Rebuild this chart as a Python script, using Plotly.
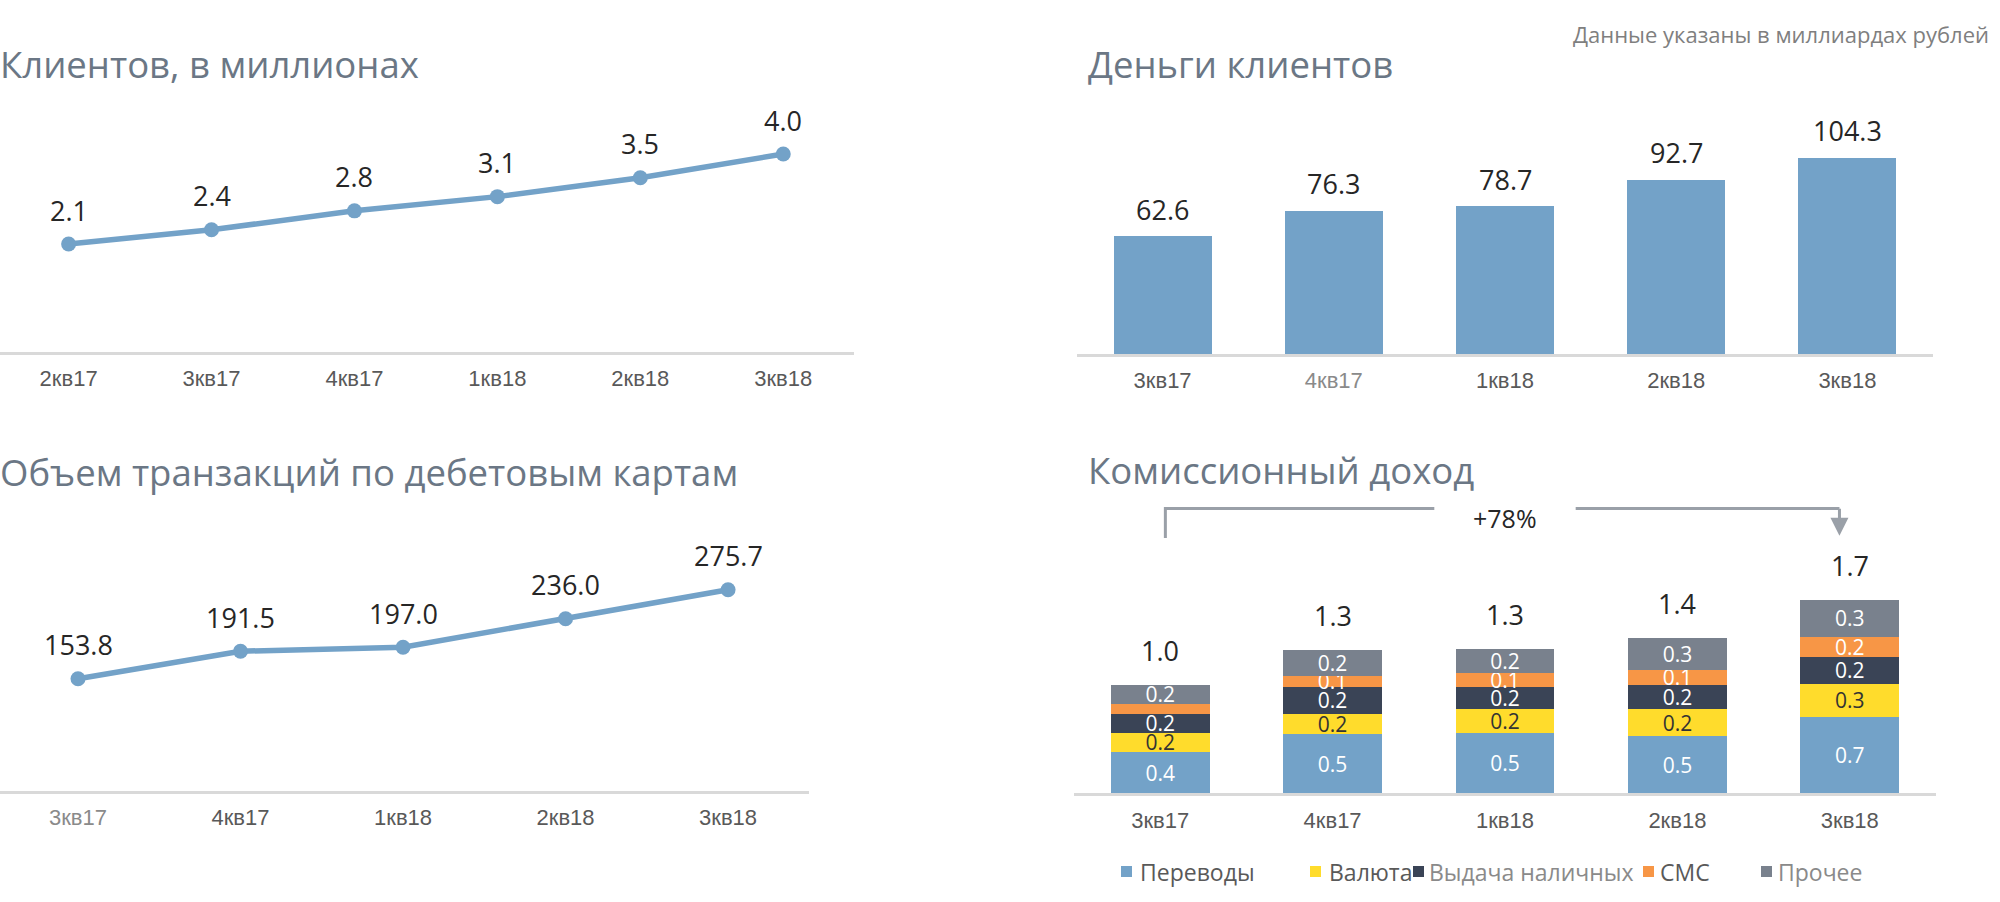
import plotly.graph_objects as go

# ---------------- data ----------------
clients_quarters = ["2кв17", "3кв17", "4кв17", "1кв18", "2кв18", "3кв18"]
clients_mln = [2.1, 2.4, 2.8, 3.1, 3.5, 4.0]

money_quarters = ["3кв17", "4кв17", "1кв18", "2кв18", "3кв18"]
money_bln = [62.6, 76.3, 78.7, 92.7, 104.3]

debit_quarters = ["3кв17", "4кв17", "1кв18", "2кв18", "3кв18"]
debit_volume = [153.8, 191.5, 197.0, 236.0, 275.7]

fee_quarters = ["3кв17", "4кв17", "1кв18", "2кв18", "3кв18"]
fee_transfers = [0.37, 0.53, 0.54, 0.51, 0.68]
fee_currency = [0.17, 0.18, 0.21, 0.24, 0.30]
fee_cash = [0.17, 0.24, 0.20, 0.22, 0.24]
fee_sms = [0.09, 0.10, 0.12, 0.13, 0.18]
fee_other = [0.17, 0.23, 0.22, 0.29, 0.33]
fee_totals = [1.0, 1.3, 1.3, 1.4, 1.7]
fee_series_names = ["Переводы", "Валюта", "Выдача наличных", "СМС", "Прочее"]
fee_growth_text = "+78%"

titles = ["Клиентов, в миллионах", "Деньги клиентов",
          "Объем транзакций по дебетовым картам", "Комиссионный доход"]
subtitle = "Данные указаны в миллиардах рублей"

# ---------------- styles ----------------
W, H = 2000, 902
BLUE = "#73a2c8"
YELLOW = "#ffdc2c"
NAVY = "#3a4456"
ORANGE = "#f79646"
GREY = "#79818d"
TITLE_C = "#6b7785"
TICK_DARK = "#595959"
TICK_LIGHT = "#8a8a8a"
LABEL_C = "#262626"
BASE_C = "#d9d9d9"
TITLE_FONT = "Open Sans"
TICK_FONT = "Liberation Sans"


def px(p):
    return p / W


def py(p):
    return 1 - p / H


def tick_texts(cats, light=()):
    out = []
    for c_i, c in enumerate(cats):
        col = TICK_LIGHT if c_i in light else TICK_DARK
        out.append(f'<span style="color:{col}">{c}</span>')
    return out


fig = go.Figure()

# chart 1: clients line
fig.add_trace(go.Scatter(
    x=clients_quarters, y=clients_mln, mode="lines+markers",
    line=dict(color=BLUE, width=5.5), marker=dict(color=BLUE, size=15),
    xaxis="x", yaxis="y", showlegend=False, hoverinfo="skip"))

# chart 2: money bars
fig.add_trace(go.Bar(
    x=money_quarters, y=money_bln, marker=dict(color=BLUE, line=dict(width=0)),
    xaxis="x2", yaxis="y2", showlegend=False, hoverinfo="skip"))

# chart 3: debit volume line
fig.add_trace(go.Scatter(
    x=debit_quarters, y=debit_volume, mode="lines+markers",
    line=dict(color=BLUE, width=5.5), marker=dict(color=BLUE, size=15),
    xaxis="x3", yaxis="y3", showlegend=False, hoverinfo="skip"))

# chart 4: stacked fees
fee_series = [fee_transfers, fee_currency, fee_cash, fee_sms, fee_other]
fee_colors = [BLUE, YELLOW, NAVY, ORANGE, GREY]
fee_text_colors = ["white", "#333333", "white", "white", "white"]
for vals, name, col, tcol in zip(fee_series, fee_series_names, fee_colors, fee_text_colors):
    fig.add_trace(go.Bar(
        x=fee_quarters, y=vals, name=name,
        marker=dict(color=col, line=dict(width=0)),
        text=[f"{v:.1f}" if v >= 0.1 else "" for v in vals],
        textposition="inside", insidetextanchor="middle", textangle=0,
        constraintext="none",
        textfont=dict(family=TITLE_FONT, size=21, color=tcol),
        xaxis="x4", yaxis="y4", showlegend=False, hoverinfo="skip"))

annotations = []
shapes = []

# data labels
for cats, vals, xr, yr in [(clients_quarters, clients_mln, "x", "y"),
                           (debit_quarters, debit_volume, "x3", "y3")]:
    for c, v in zip(cats, vals):
        annotations.append(dict(x=c, y=v, xref=xr, yref=yr, text=f"{v:.1f}",
                                showarrow=False, yshift=34,
                                font=dict(family=TITLE_FONT, size=27, color=LABEL_C)))
for c, v in zip(money_quarters, money_bln):
    annotations.append(dict(x=c, y=v, xref="x2", yref="y2", text=f"{v:.1f}",
                            showarrow=False, yshift=27,
                            font=dict(family=TITLE_FONT, size=27, color=LABEL_C)))
fee_stack = [sum(s) for s in zip(*fee_series)]
for c, top, t in zip(fee_quarters, fee_stack, fee_totals):
    annotations.append(dict(x=c, y=top, xref="x4", yref="y4", text=f"{t:.1f}",
                            showarrow=False, yshift=34,
                            font=dict(family=TITLE_FONT, size=27, color=LABEL_C)))

# titles
title_pos = [(-2, 64), (1086, 64), (-2, 472), (1086, 470)]
for t, (x0, y0) in zip(titles, title_pos):
    annotations.append(dict(x=px(x0), y=py(y0), xref="paper", yref="paper",
                            xanchor="left", yanchor="middle", text=t, showarrow=False,
                            font=dict(family=TITLE_FONT, size=36.5, color=TITLE_C)))
annotations.append(dict(x=px(1991), y=py(34), xref="paper", yref="paper",
                        xanchor="right", yanchor="middle", text=subtitle, showarrow=False,
                        font=dict(family=TITLE_FONT, size=22, color="#7f7f7f")))

# growth bracket on chart 4
BR_C = "#9aa0a8"
y_top = 2.543
shapes.append(dict(type="path", xref="x4", yref="y4",
                   path=f"M 0.03,2.279 L 0.03,{y_top} L 1.59,{y_top}",
                   line=dict(color=BR_C, width=3)))
shapes.append(dict(type="line", xref="x4", yref="y4", x0=2.41, x1=3.94,
                   y0=y_top, y1=y_top, line=dict(color=BR_C, width=3)))
annotations.append(dict(x=3.94, y=2.30, ax=3.94, ay=y_top + 0.012, xref="x4", yref="y4",
                        axref="x4", ayref="y4", text="", showarrow=True,
                        arrowhead=2, arrowsize=1.2, arrowwidth=3, arrowcolor=BR_C))
annotations.append(dict(x=2.0, y=2.458, xref="x4", yref="y4", text=fee_growth_text,
                        showarrow=False,
                        font=dict(family=TITLE_FONT, size=25, color=LABEL_C)))

# custom legend for chart 4
leg_marker_x = [1121, 1310, 1413, 1643, 1761]
leg_text_x = [1138, 1327, 1427, 1658, 1776]
leg_text_c = [TICK_DARK, TICK_DARK, TICK_LIGHT, TICK_DARK, TICK_LIGHT]
for name, col, mx, tx, tc in zip(fee_series_names, fee_colors, leg_marker_x, leg_text_x, leg_text_c):
    shapes.append(dict(type="rect", xref="paper", yref="paper",
                       x0=px(mx), x1=px(mx + 11), y0=py(877), y1=py(866),
                       fillcolor=col, line=dict(width=0)))
    annotations.append(dict(x=px(tx), y=py(872), xref="paper", yref="paper",
                            xanchor="left", yanchor="middle", text=name, showarrow=False,
                            font=dict(family=TITLE_FONT, size=23, color=tc)))


def xaxis_cfg(domain, rng, cats, light=()):
    return dict(domain=domain, range=rng, type="category",
                tickmode="array", tickvals=cats, ticktext=tick_texts(cats, light),
                showline=True, linecolor=BASE_C, linewidth=3,
                showgrid=False, zeroline=False, ticks="", ticklabelstandoff=5,
                tickfont=dict(family=TICK_FONT, size=22, color=TICK_DARK),
                fixedrange=True)


def yaxis_cfg(domain, rng, anchor):
    return dict(domain=domain, range=rng, visible=False, showgrid=False,
                zeroline=False, anchor=anchor, fixedrange=True)


fig.update_layout(
    width=W, height=H, margin=dict(l=0, r=0, t=0, b=0),
    paper_bgcolor="white", plot_bgcolor="white",
    barmode="stack", bargap=0.427,
    xaxis=xaxis_cfg([px(0), px(854)], [-0.48, 5.495], clients_quarters) | dict(anchor="y"),
    yaxis=yaxis_cfg([py(352), py(100)], [2.1 - 108 / 47.37, 2.1 + 144 / 47.37], "x"),
    xaxis2=xaxis_cfg([px(1077), px(1933)], [-0.5, 4.5], money_quarters, light=(1,)) | dict(anchor="y2"),
    yaxis2=yaxis_cfg([py(354), py(100)], [0, 254 / 1.88], "x2"),
    xaxis3=xaxis_cfg([px(0), px(809)], [-0.48, 4.498], debit_quarters, light=(0,)) | dict(anchor="y3"),
    yaxis3=yaxis_cfg([py(791), py(540)], [0, 251 / 0.73], "x3"),
    xaxis4=xaxis_cfg([px(1074), px(1936)], [-0.5, 4.5], fee_quarters) | dict(anchor="y4"),
    yaxis4=yaxis_cfg([py(793.3), py(480)], [0, 313.3 / 112], "x4"),
    annotations=annotations, shapes=shapes,
)

fig.write_html("out.html", config={"displayModeBar": False},
               post_script="document.body.style.margin='0';document.body.style.overflow='hidden';")
